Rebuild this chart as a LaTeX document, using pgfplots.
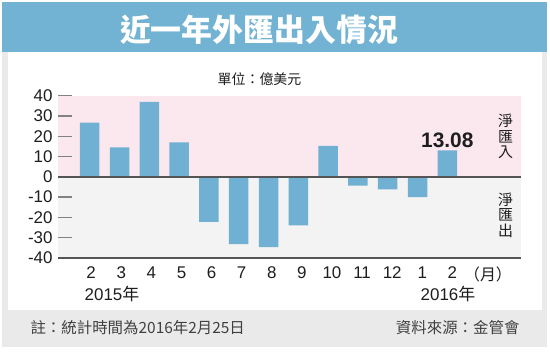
\documentclass[border=0pt]{standalone}
\usepackage{pgfplots}
\pgfplotsset{compat=1.18}
\usepackage{fontspec}
\setmainfont{Liberation Sans}
\newfontfamily\cjk{Noto Sans CJK TC}
\definecolor{bannerblue}{RGB}{114,178,210}
\definecolor{barblue}{RGB}{112,176,210}
\definecolor{pinkbg}{RGB}{250,232,238}
\definecolor{graybg}{RGB}{243,243,243}
\definecolor{framegray}{RGB}{234,234,234}
\definecolor{axisdark}{RGB}{85,85,85}
\definecolor{tickgray}{RGB}{130,130,130}
\definecolor{txt}{RGB}{30,30,30}
\begin{document}
\begin{tikzpicture}[x=1bp,y=1bp]
\useasboundingbox (0,0) rectangle (550,351);
\fill[white] (0,0) rectangle (550,351);
\fill[framegray] (2,4) rectangle (547,349);
\fill[bannerblue] (2,299) rectangle (547,349);
\fill[white] (7.5,41) rectangle (541.5,299);
\node[white, font=\fontsize{31}{31}\selectfont\cjk\bfseries] at (259,321) {近一年外匯出入情況};
\node[txt, font=\fontsize{14}{14}\selectfont\cjk] at (259.5,272) {單位：億美元};
\fill[pinkbg] (58,174.3) rectangle (520.5,255.3);
\fill[graybg] (58,93) rectangle (520.5,174.3);
\begin{axis}[at={(58bp,93bp)}, anchor=south west, scale only axis,
  width=462.5bp, height=162.3bp,
  xmin=-1.064, xmax=14.456, ymin=-40, ymax=40,
  axis line style={draw=none},
  ytick={-40,-30,...,40}, ytick pos=left, tick align=inside,
  major tick length=14bp,
  ytick style={draw=tickgray, line width=1.3bp},
  xtick={0.05,1.06,2.07,3.08,4.09,5.10,6.11,7.12,8.13,9.14,10.15,11.16,12.17},
  xticklabels={2,3,4,5,6,7,8,9,10,11,12,1,2},
  xtick style={draw=none}, xtick pos=bottom,
  ticklabel style={font=\fontsize{17}{17}\selectfont, text=txt},
  xticklabel style={yshift=-5bp},
  /pgf/number format/assume math mode=true,
  yticklabel style={xshift=-2bp},
  clip=false,
]
\addplot[ybar, bar width=19.5bp, fill=barblue, draw=none] coordinates {
(0,26.7) (1,14.5) (2,36.9) (3,17.0) (4,-22.2) (5,-33.2) (6,-34.6)
(7,-23.9) (8,15.3) (9,-4.3) (10,-6.2) (11,-10.0) (12,13.08)};
\draw[axisdark, line width=1.8bp] (rel axis cs:0,0.5) -- (rel axis cs:1,0.5);
\draw[axisdark, line width=1.8bp] (rel axis cs:0,0) -- (rel axis cs:1,0);
\node[font=\fontsize{21}{21}\selectfont\bfseries, text=txt, above, inner sep=2bp] at (axis cs:12,13.08) {13.08};
\end{axis}
\node[txt, font=\fontsize{15}{15.5}\selectfont\cjk, align=center] at (505.7,214.5) {淨\\匯\\入};
\node[txt, font=\fontsize{15}{15.5}\selectfont\cjk, align=center] at (505.7,136) {淨\\匯\\出};
\node[txt, font=\fontsize{16}{16}\selectfont\cjk] at (488,77) {（月）};
\node[txt, font=\fontsize{17}{17}\selectfont] at (112,57) {2015{\cjk 年}};
\node[txt, font=\fontsize{17}{17}\selectfont] at (448,57) {2016{\cjk 年}};
\node[txt!85!white, font=\fontsize{15.5}{15.5}\selectfont\cjk, anchor=west] at (27,23) {註：統計時間為2016年2月25日};
\node[txt!85!white, font=\fontsize{15.5}{15.5}\selectfont\cjk, anchor=east] at (523,23) {資料來源：金管會};
\end{tikzpicture}
\end{document}
